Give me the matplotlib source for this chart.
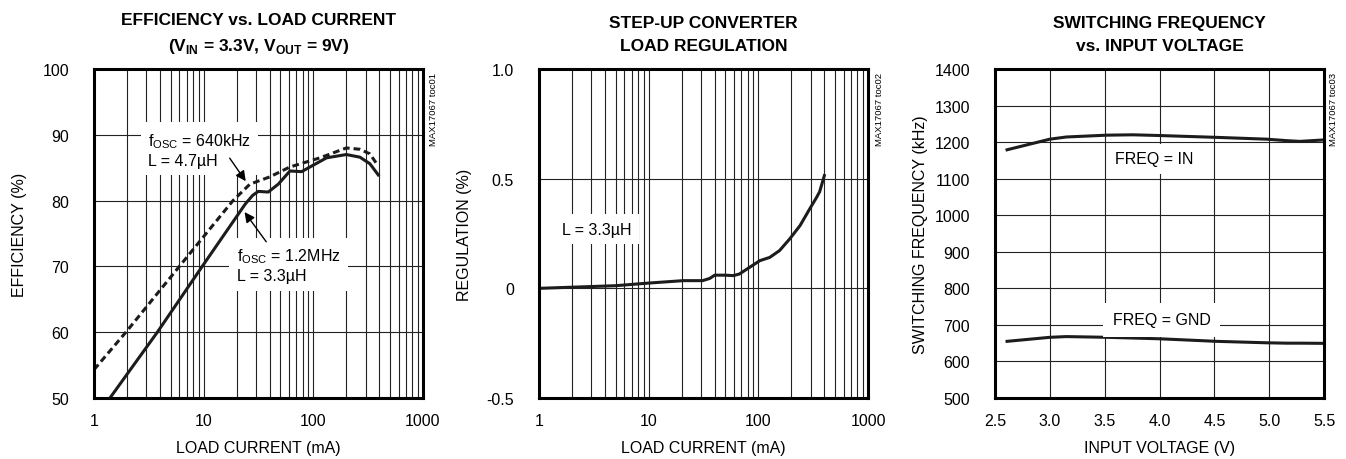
import numpy as np
import matplotlib
matplotlib.use('Agg')
import matplotlib.pyplot as plt
from matplotlib.ticker import LogLocator, NullFormatter, FixedLocator

plt.rcParams['font.family'] = ['Liberation Sans', 'DejaVu Sans']
plt.rcParams['mathtext.fontset'] = 'custom'
plt.rcParams['mathtext.rm'] = 'Liberation Sans'
plt.rcParams['mathtext.bf'] = 'Liberation Sans:bold'

# Efficiency vs load current
eff_i_640 = [1, 2, 6, 18.5, 26.4, 40, 61, 115, 200, 266, 328, 378]
eff_640 = [54.3, 60.2, 70.0, 80.0, 82.5, 83.6, 85.1, 86.5, 88.0, 87.8, 87.1, 85.6]
eff_i_12 = [1.37, 3.78, 9.7, 24, 28, 31.5, 38.8, 47.9, 61.2, 78.2, 93, 132, 200, 266, 328, 391]
eff_12 = [49.8, 60.0, 70.0, 79.5, 80.8, 81.4, 81.3, 82.5, 84.5, 84.4, 85.1, 86.5, 87.0, 86.6, 85.6, 83.9]

# Load regulation
reg_i = [1, 5, 10, 20.6, 31, 36, 40, 50, 59, 67, 80, 103, 127, 156, 193, 240, 294, 340, 362, 400]
reg_pct = [0.0, 0.012, 0.024, 0.035, 0.035, 0.045, 0.06, 0.06, 0.058, 0.065, 0.09, 0.126, 0.141, 0.172, 0.225, 0.286, 0.362, 0.415, 0.44, 0.514]

# Switching frequency vs input voltage
vin = [2.61, 3.0, 3.15, 3.52, 3.76, 4.0, 4.52, 4.98, 5.16, 5.28, 5.5]
freq_in = [1179, 1208, 1214, 1219, 1220, 1218, 1213, 1208, 1204, 1202, 1206]
freq_gnd = [655, 666, 668, 666, 664, 662, 655, 651, 650, 650, 649.5]

fig = plt.figure(figsize=(13.46, 4.6), dpi=100)
W, H = 1346, 460
boxes = [(94, 423), (539, 868), (995, 1324)]
top, bot = 70, 399
axs = [fig.add_axes([l / W, 1 - bot / H, (r - l) / W, (bot - top) / H]) for l, r in boxes]

lw = 2.2
col = '#1c1c1c'
fs = 11.5
bbox = dict(boxstyle='square,pad=0.45', facecolor='white', edgecolor='none')
arrow = dict(arrowstyle='-|>', color='black', lw=1.0, mutation_scale=15)


def style(ax):
    for s in ax.spines.values():
        s.set_linewidth(2.2)
    ax.tick_params(which='both', length=0, labelsize=fs)
    ax.tick_params(axis='x', pad=11)
    ax.tick_params(axis='y', pad=18)
    ax.grid(which='both', color='#222222', linewidth=0.8)
    ax.set_axisbelow(True)


def labels(ax, xl, yl, title):
    ax.set_xlabel(xl, fontsize=fs)
    ax.set_ylabel(yl, fontsize=fs)
    ax.xaxis.set_label_coords(0.5, -0.128)
    ax.yaxis.set_label_coords(-0.205, 0.5)
    ax.set_title(title, fontsize=12.5, fontweight='bold', pad=14, linespacing=1.6)


def log_x(ax):
    ax.set_xscale('log')
    ax.set_xlim(1, 1000)
    ax.xaxis.set_major_locator(FixedLocator([1, 10, 100, 1000]))
    ax.xaxis.set_minor_locator(LogLocator(base=10, subs=np.arange(2, 10)))
    ax.xaxis.set_minor_formatter(NullFormatter())
    ax.set_xticklabels(['1', '10', '100', '1000'])


def tag(x, s):
    fig.text(x / W, 1 - 73 / H, s, rotation=90, ha='center', va='top', fontsize=6.8)


# panel 1
ax = axs[0]
style(ax)
log_x(ax)
ax.set_ylim(50, 100)
ax.set_yticks(range(50, 101, 10))
ax.plot(eff_i_640, eff_640, color=col, lw=lw, ls=(0, (2.2, 1.3)))
ax.plot(eff_i_12, eff_12, color=col, lw=lw)
labels(ax, 'LOAD CURRENT (mA)', 'EFFICIENCY (%)',
       'EFFICIENCY vs. LOAD CURRENT\n' + r'(V$_{\mathbf{IN}}$ = 3.3V, V$_{\mathbf{OUT}}$ = 9V)')
ax.text(3.1, 87.8, 'f$_{\\mathrm{OSC}}$ = 640kHz\nL = 4.7µH', fontsize=fs, ha='left', va='center',
        bbox=bbox, linespacing=1.25, zorder=3)
ax.text(20.0, 70.2, 'f$_{\\mathrm{OSC}}$ = 1.2MHz\nL = 3.3µH', fontsize=fs, ha='left', va='center',
        bbox=bbox, linespacing=1.25, zorder=3)
ax.annotate('', xy=(25, 82.6), xytext=(16.7, 86.8), arrowprops=arrow, zorder=5)
ax.annotate('', xy=(22.8, 78.6), xytext=(38.5, 73.4), arrowprops=arrow, zorder=5)
tag(434, 'MAX17067 toc01')

# panel 2
ax = axs[1]
style(ax)
log_x(ax)
ax.set_ylim(-0.5, 1.0)
ax.set_yticks([-0.5, 0, 0.5, 1.0])
ax.set_yticklabels(['-0.5', '0', '0.5', '1.0'])
ax.plot(reg_i, reg_pct, color=col, lw=lw)
labels(ax, 'LOAD CURRENT (mA)', 'REGULATION (%)', 'STEP-UP CONVERTER\nLOAD REGULATION')
ax.text(1.62, 0.27, 'L = 3.3µH', fontsize=fs, ha='left', va='center', bbox=bbox)
tag(879, 'MAX17067 toc02')

# panel 3
ax = axs[2]
style(ax)
ax.set_xlim(2.5, 5.5)
ax.set_xticks(np.arange(2.5, 5.51, 0.5))
ax.set_xticklabels(['2.5', '3.0', '3.5', '4.0', '4.5', '5.0', '5.5'])
ax.set_ylim(500, 1400)
ax.set_yticks(range(500, 1401, 100))
ax.plot(vin, freq_in, color=col, lw=lw)
ax.plot(vin, freq_gnd, color=col, lw=lw)
labels(ax, 'INPUT VOLTAGE (V)', 'SWITCHING FREQUENCY (kHz)', 'SWITCHING FREQUENCY\nvs. INPUT VOLTAGE')
ax.text(3.95, 1154, 'FREQ = IN', fontsize=fs, ha='center', va='center', bbox=bbox)
ax.text(4.02, 714, 'FREQ = GND', fontsize=fs, ha='center', va='center',
        bbox=dict(boxstyle='square,pad=0.6', facecolor='white', edgecolor='none'))
tag(1334, 'MAX17067 toc03')

fig.savefig('out.png', dpi=100)
